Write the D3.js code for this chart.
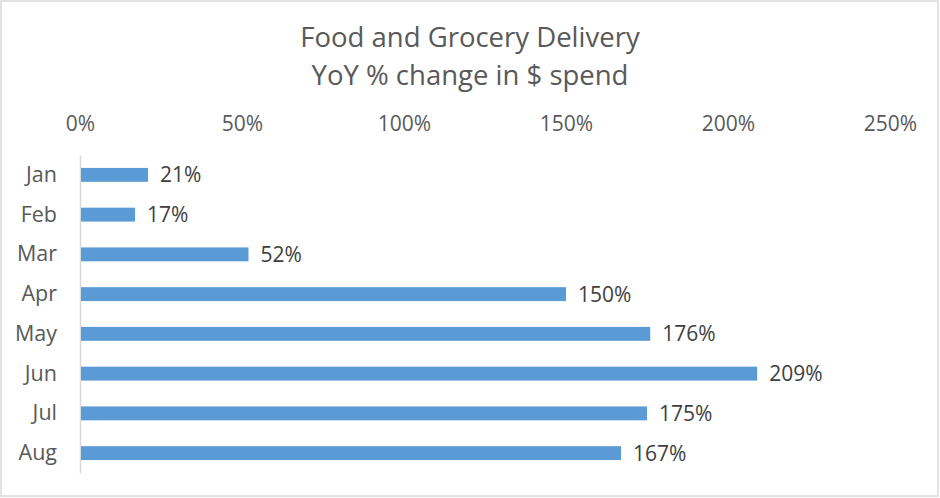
<!DOCTYPE html>
<html><head><meta charset="utf-8">
<script src="https://cdn.jsdelivr.net/npm/d3@7"></script>
<style>body{margin:0;background:#fff}svg{display:block}text{font-family:"Open Sans",sans-serif}</style>
</head><body><svg id="c" width="940" height="498"></svg>
<script>
const months = ["Jan","Feb","Mar","Apr","May","Jun","Jul","Aug"];
const values = [21,17,52,150,176,209,175,167];
const xTicks = [0,50,100,150,200,250];
const titleLines = ["Food and Grocery Delivery","YoY % change in $ spend"];

const svg = d3.select("#c");
svg.append("rect").attr("x",1).attr("y",1).attr("width",937).attr("height",495)
  .attr("fill","#fff").attr("stroke","#d9d9d9").attr("stroke-width",1.5);

const x = d3.scaleLinear().domain([0,250]).range([80,890]);
const y = d3.scaleBand().domain(months).range([155,473]).paddingInner(0.65).paddingOuter(0.325);

svg.selectAll(".t").data(titleLines).enter().append("text")
  .attr("x",470).attr("y",(d,i)=>47+i*38).attr("text-anchor","middle")
  .attr("font-size",27.5).attr("fill","#595959").text(d=>d);

const xa = svg.append("g").attr("transform","translate(0,131)")
  .call(d3.axisTop(x).tickValues(xTicks).tickFormat(d=>d+"%").tickSize(0).tickPadding(0));
xa.select(".domain").remove();
xa.selectAll("text").attr("font-size",21).attr("fill","#595959").attr("font-family","Open Sans").attr("dy","0");

const ya = svg.append("g").attr("transform","translate(80,0)")
  .call(d3.axisLeft(y).tickSize(0).tickPadding(23));
ya.select(".domain").attr("stroke","#d9d9d9").attr("stroke-width",1.5);
ya.selectAll("text").attr("font-size",21.5).attr("fill","#595959").attr("font-family","Open Sans");

svg.selectAll(".bar").data(values).enter().append("rect")
  .attr("x",x(0)+1).attr("y",(d,i)=>y(months[i]))
  .attr("width",d=>x(d)-x(0)-1).attr("height",y.bandwidth()).attr("fill","#5b9bd5");

svg.selectAll(".lbl").data(values).enter().append("text")
  .attr("x",d=>x(d)+12).attr("y",(d,i)=>y(months[i])+y.bandwidth()/2).attr("dy","0.36em")
  .attr("font-size",21).attr("fill","#404040").text(d=>d+"%");
</script></body></html>
